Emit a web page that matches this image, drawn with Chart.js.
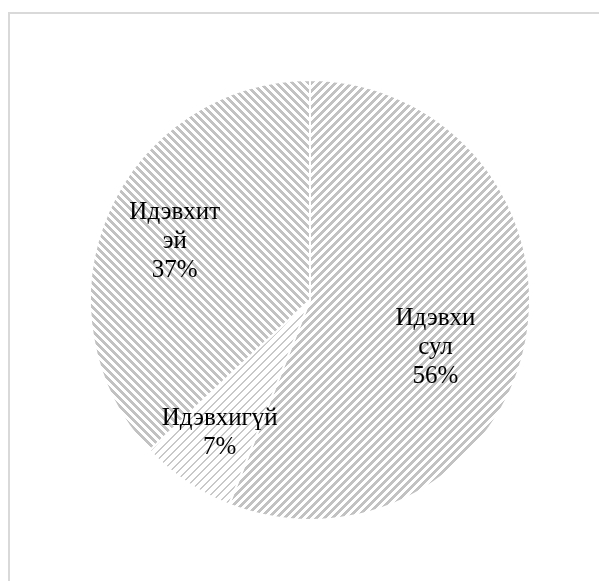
<!DOCTYPE html>
<html>
<head>
<meta charset="utf-8">
<script src="https://cdn.jsdelivr.net/npm/chart.js@4/dist/chart.umd.min.js"></script>
<style>
  html, body { margin: 0; padding: 0; background: #fff; overflow: hidden; }
  #frame {
    position: absolute; left: 8px; top: 12px; width: 700px; height: 700px;
    border-left: 2px solid #d9d9d9; border-top: 2px solid #d9d9d9;
  }
  #pie { position: absolute; left: 0; top: 0; }
</style>
</head>
<body>
<div id="frame"></div>
<canvas id="pie" width="599" height="581"></canvas>
<script>
// activity groups, clockwise from 12 o'clock
const categories = [['Идэвхи', 'сул'], ['Идэвхигүй'], ['Идэвхит', 'эй']];
const shares = [56, 7, 37];

// label placement: fraction of radius and angle nudge (deg) from slice middle
const labelRadius = [0.61, 0.73, 0.67];
const labelNudge = [10, 0, 0];

// pixel hatch tiles: dir 1 = "/", -1 = "\"
function hatch(dir, period, width, color) {
    const c = document.createElement('canvas');
    c.width = period; c.height = period;
    const g = c.getContext('2d');
    g.fillStyle = '#fff';
    g.fillRect(0, 0, period, period);
    g.fillStyle = color;
    for (let y = 0; y < period; y++) {
        for (let x = 0; x < period; x++) {
            const k = dir > 0 ? (x + y) : (x - y + period * 2);
            if (k % period < width) g.fillRect(x, y, 1, 1);
        }
    }
    return g.createPattern(c, 'repeat');
}

const fills = [
    hatch(1, 8, 4, '#c2c2c2'),
    hatch(1, 8, 2, '#c8c8c8'),
    hatch(-1, 8, 4, '#c2c2c2')
];

const pieLabels = {
    id: 'pieLabels',
    afterDatasetsDraw(chart) {
        const ctx = chart.ctx;
        const total = shares.reduce((a, b) => a + b, 0);
        chart.getDatasetMeta(0).data.forEach((arc, i) => {
            const mid = (arc.startAngle + arc.endAngle) / 2 + labelNudge[i] * Math.PI / 180;
            const r = arc.outerRadius * labelRadius[i];
            const x = arc.x + Math.cos(mid) * r;
            const y = arc.y + Math.sin(mid) * r;
            const lines = categories[i].concat([Math.round(shares[i] / total * 100) + '%']);
            const lh = 29;
            ctx.save();
            ctx.font = '25px "Times New Roman", "Liberation Serif", serif';
            ctx.fillStyle = '#000';
            ctx.textAlign = 'center';
            ctx.textBaseline = 'middle';
            lines.forEach((t, j) => {
                ctx.fillText(t, x, y + (j - (lines.length - 1) / 2) * lh);
            });
            ctx.restore();
        });
    }
};

new Chart(document.getElementById('pie'), {
    type: 'pie',
    data: {
        labels: categories.map(l => l.join(' ')),
        datasets: [{
            data: shares,
            backgroundColor: fills,
            borderColor: '#ffffff',
            borderWidth: 2
        }]
    },
    options: {
        responsive: false,
        animation: false,
        layout: { padding: { top: 79, bottom: 60, left: 89, right: 68 } },
        plugins: { legend: { display: false }, tooltip: { enabled: false } }
    },
    plugins: [pieLabels]
});
</script>
</body>
</html>
